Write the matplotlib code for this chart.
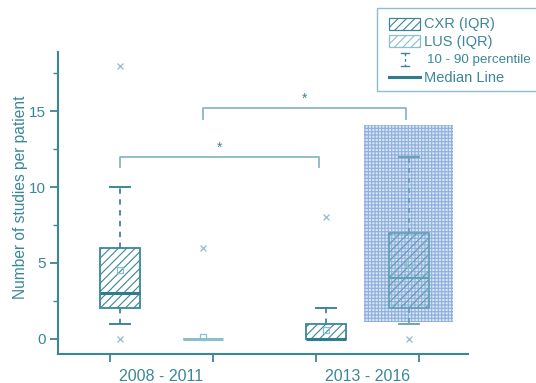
import matplotlib
matplotlib.use("Agg")
import matplotlib.pyplot as plt
from matplotlib.patches import Rectangle
from matplotlib.lines import Line2D

plt.rcParams['font.family'] = ['Liberation Sans', 'DejaVu Sans']
plt.rcParams['hatch.linewidth'] = 0.8

# ---- data -------------------------------------------------------------
periods = ['2008 - 2011', '2013 - 2016']

cxr_whislo = [1, 0]
cxr_q1 = [2, 0]
cxr_med = [3, 0]
cxr_q3 = [6, 1]
cxr_whishi = [10, 2]
cxr_mean = [4.55, 0.6]
cxr_fliers = [[0, 18], [8]]

lus_whislo = [0, 1]
lus_q1 = [0, 2]
lus_med = [0, 4]
lus_q3 = [0, 7]
lus_whishi = [0, 12]
lus_mean = [0.15, 4.9]
lus_fliers = [[6], [0]]

# shaded band behind the 2013-2016 LUS box
lus_band = (1.1, 14.1)

# significance brackets: (left pos, right pos, height, label)
sig_pairs = [(0.10, 2.03, 12.0, '*'), (0.90, 2.87, 15.2, '*')]

# ---- style ------------------------------------------------------------
TEAL = '#3b8797'
TEAL_DARK = '#2f7c8c'
TEAL_LIGHT = '#8cbfcc'
TEAL_MID = '#5f9fb3'
BRACKET = '#8ab8c5'

cxr_pos = [0.1, 2.1]
lus_pos = [0.9, 2.9]
box_w = 0.39

fig = plt.figure(figsize=(5.36, 3.83), dpi=100)
ax = fig.add_axes([58 / 536, 1 - 354 / 383, 410 / 536, 302 / 383])


def stats(i, lo, q1, med, q3, hi, mean, fl):
    return dict(whislo=lo[i], q1=q1[i], med=med[i], q3=q3[i],
                whishi=hi[i], mean=mean[i], fliers=fl[i])


cxr_stats = [stats(i, cxr_whislo, cxr_q1, cxr_med, cxr_q3, cxr_whishi,
                   cxr_mean, cxr_fliers) for i in range(2)]
lus_stats = [stats(i, lus_whislo, lus_q1, lus_med, lus_q3, lus_whishi,
                   lus_mean, lus_fliers) for i in range(2)]

# dense checked band behind the LUS 2013-2016 box
band = Rectangle((lus_pos[1] - 0.43, lus_band[0]), 0.86,
                 lus_band[1] - lus_band[0], facecolor='#d8e5f5',
                 edgecolor='#8eafdd', hatch='+++++', linewidth=0, zorder=1)
ax.add_patch(band)

cxr_art = ax.bxp(cxr_stats, positions=cxr_pos, widths=box_w,
                 capwidths=box_w / 2, patch_artist=True, showmeans=True,
                 boxprops=dict(facecolor='none', edgecolor=TEAL, hatch='////',
                               linewidth=1.3),
                 whiskerprops=dict(color=TEAL, linestyle=(0, (3, 3)),
                                   linewidth=1.3),
                 capprops=dict(color=TEAL, linewidth=1.4),
                 medianprops=dict(color=TEAL_DARK, linewidth=2.2),
                 meanprops=dict(marker='s', markersize=4,
                                markerfacecolor='none',
                                markeredgecolor=TEAL_LIGHT,
                                markeredgewidth=0.9),
                 flierprops=dict(marker='x', markersize=4,
                                 markeredgecolor=TEAL_LIGHT,
                                 markeredgewidth=0.9),
                 manage_ticks=False, zorder=3)

lus_art = ax.bxp(lus_stats, positions=lus_pos, widths=box_w,
                 capwidths=box_w / 2, patch_artist=True, showmeans=True,
                 boxprops=dict(facecolor='none', edgecolor=TEAL_LIGHT,
                               hatch='////', linewidth=1.2),
                 whiskerprops=dict(color=TEAL_LIGHT, linestyle=(0, (3, 3)),
                                   linewidth=1.2),
                 capprops=dict(color=TEAL_LIGHT, linewidth=1.3),
                 medianprops=dict(color=TEAL_LIGHT, linewidth=2.2),
                 meanprops=dict(marker='s', markersize=4,
                                markerfacecolor='none',
                                markeredgecolor=TEAL_LIGHT,
                                markeredgewidth=0.9),
                 flierprops=dict(marker='x', markersize=4,
                                 markeredgecolor=TEAL_LIGHT,
                                 markeredgewidth=0.9),
                 manage_ticks=False, zorder=3)
# the later LUS box sits over the band: give it a stronger outline
lus_art['boxes'][1].set_edgecolor(TEAL_MID)
lus_art['medians'][1].set_color(TEAL_MID)
lus_art['medians'][1].set_linewidth(1.6)
for art in lus_art['whiskers'][2:] + lus_art['caps'][2:]:
    art.set_color(TEAL_MID)

# significance brackets
for x0, x1, h, lab in sig_pairs:
    ax.plot([x0, x0, x1, x1], [h - 0.7, h, h, h - 0.7], color=BRACKET,
            linewidth=1.3, zorder=2)
    ax.text((x0 + x1) / 2, h + 0.6, lab, ha='center', va='center',
            color=TEAL, fontsize=10)

# ---- axes -------------------------------------------------------------
ax.set_xlim(-0.505, 3.476)
ax.set_ylim(-1, 18.9)
for s in ['top', 'right']:
    ax.spines[s].set_visible(False)
for s in ['left', 'bottom']:
    ax.spines[s].set_color(TEAL)
    ax.spines[s].set_linewidth(1.5)

ax.set_yticks([0, 5, 10, 15])
ax.set_yticks([2.5, 7.5, 12.5, 17.5], minor=True)
ax.tick_params(axis='y', which='major', length=6, width=1.3, color=TEAL,
               labelcolor=TEAL, labelsize=11, pad=3)
ax.tick_params(axis='y', which='minor', length=3.5, width=1.0, color=TEAL)

ax.set_xticks([0, 1, 2, 3])
ax.set_xticklabels([])
ax.set_xticks([0.5, 2.5], minor=True)
ax.set_xticklabels(periods, minor=True)
ax.tick_params(axis='x', which='major', length=6, width=1.3, color=TEAL)
ax.tick_params(axis='x', which='minor', length=0, labelcolor=TEAL,
               labelsize=11.5, pad=11)

ax.set_ylabel('Number of studies per patient', color=TEAL, fontsize=11.2)
ax.yaxis.set_label_coords(-0.074, 0.52)

# ---- legend (drawn in pixel coordinates of the figure) ----------------
def fx(px):
    return px / 536


def fy(py):
    return 1 - py / 383


fig.add_artist(Rectangle((fx(377), fy(91)), fx(170), fy(8) - fy(91),
                         transform=fig.transFigure, facecolor='white',
                         edgecolor=TEAL_LIGHT, linewidth=1.0))
fig.add_artist(Rectangle((fx(389), fy(30)), fx(31), fy(18) - fy(30),
                         transform=fig.transFigure, facecolor='none',
                         edgecolor=TEAL, hatch='////', linewidth=0.9))
fig.add_artist(Rectangle((fx(389), fy(47)), fx(31), fy(35) - fy(47),
                         transform=fig.transFigure, facecolor='none',
                         edgecolor=TEAL_LIGHT, hatch='////', linewidth=0.9))
# whisker symbol
fig.add_artist(Line2D([fx(401), fx(409)], [fy(53), fy(53)],
                      transform=fig.transFigure, color=TEAL, linewidth=1.0))
fig.add_artist(Line2D([fx(405), fx(405)], [fy(53), fy(66)],
                      transform=fig.transFigure, color=TEAL, linewidth=1.0,
                      linestyle=(0, (2, 2))))
fig.add_artist(Line2D([fx(401), fx(409)], [fy(66), fy(66)],
                      transform=fig.transFigure, color=TEAL, linewidth=1.0))
# median symbol
fig.add_artist(Line2D([fx(389), fx(420)], [fy(77), fy(77)],
                      transform=fig.transFigure, color=TEAL_DARK,
                      linewidth=2.2))

legend_labels = ['CXR (IQR)', 'LUS (IQR)', '10 - 90 percentile', 'Median Line']
legend_x = [424, 424, 427, 424]
legend_size = [10.5, 10.5, 9.6, 10.5]
for lab, px, py, fs in zip(legend_labels, legend_x, [24, 42, 60, 78],
                           legend_size):
    fig.text(fx(px), fy(py), lab, ha='left', va='center', color=TEAL,
             fontsize=fs)

fig.savefig('out.png', dpi=100)
